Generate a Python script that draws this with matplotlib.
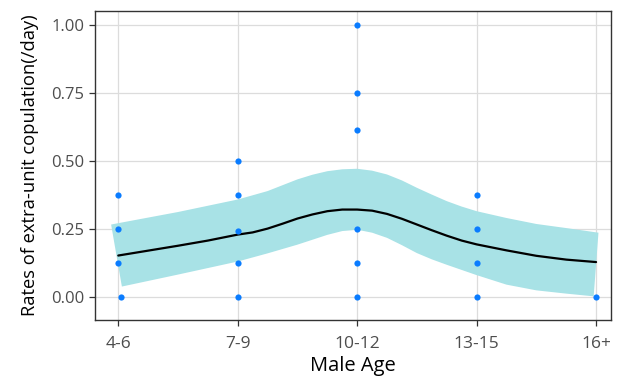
import matplotlib.pyplot as plt

plt.rcParams["font.family"] = ["Open Sans", "DejaVu Sans"]

# categorie de varsta (axa x)
age_labels = ["4-6", "7-9", "10-12", "13-15", "16+"]

# observatii (categorie, rata)
obs_cat = [0, 0, 0, 0.02,
           1, 1, 1, 1, 1,
           2, 2, 2, 2, 2, 2,
           3, 3, 3, 3,
           4]
obs_rate = [0.375, 0.25, 0.125, 0.0,
            0.5, 0.375, 0.244, 0.125, 0.0,
            1.0, 0.75, 0.615, 0.25, 0.125, 0.0,
            0.375, 0.25, 0.125, 0.0,
            0.0]

# curba estimata
fit_x = [0, 0.25, 0.5, 0.75, 1, 1.125, 1.25, 1.375, 1.5, 1.625, 1.75, 1.875,
         2, 2.125, 2.25, 2.375, 2.5, 2.625, 2.75, 2.875, 3, 3.25, 3.5, 3.75, 4]
fit_y = [0.152, 0.17, 0.188, 0.207, 0.229, 0.237, 0.251, 0.269, 0.288, 0.303,
         0.315, 0.321, 0.321, 0.317, 0.305, 0.287, 0.266, 0.245, 0.225, 0.207,
         0.193, 0.171, 0.151, 0.137, 0.128]

# banda de incredere
up_x = [-0.06, 0, 0.5, 1, 1.25, 1.5, 1.625, 1.75, 1.875, 2, 2.125, 2.25,
        2.375, 2.5, 2.625, 2.75, 2.875, 3, 3.25, 3.5, 3.75, 4.02]
up_y = [0.266, 0.271, 0.312, 0.358, 0.389, 0.432, 0.449, 0.462, 0.469, 0.471,
        0.464, 0.450, 0.428, 0.401, 0.376, 0.352, 0.332, 0.315, 0.29, 0.268,
        0.253, 0.236]
lo_x = [0.03, 0.5, 1, 1.25, 1.5, 1.75, 1.875, 2, 2.125, 2.25, 2.375, 2.5,
        2.625, 2.75, 3, 3.25, 3.5, 3.75, 3.98]
lo_y = [0.038, 0.082, 0.13, 0.16, 0.192, 0.228, 0.242, 0.247, 0.236, 0.217,
        0.19, 0.161, 0.138, 0.118, 0.08, 0.045, 0.024, 0.012, 0.002]

fig = plt.figure(figsize=(6.21, 3.82), dpi=100)
ax = fig.add_axes([95 / 621, 1 - 320 / 382, (611 - 95) / 621, (320 - 11) / 382])

ax.fill(up_x + lo_x[::-1], up_y + lo_y[::-1], color="#A8E2E6", lw=0, zorder=2)
ax.plot(fit_x, fit_y, color="black", lw=1.6, zorder=3,
        solid_joinstyle="round", solid_capstyle="round")
ax.scatter(obs_cat, obs_rate, s=20, color="#0A7CFF", lw=0, zorder=4)

ax.set_xlim(-0.195, 4.125)
ax.set_ylim(-0.085, 1.051)
ax.set_xticks(range(len(age_labels)))
ax.set_xticklabels(age_labels)
ax.set_yticks([0, 0.25, 0.5, 0.75, 1.0])
ax.set_yticklabels(["0.00", "0.25", "0.50", "0.75", "1.00"])

ax.grid(True, color="#DCDCDC", lw=0.9, zorder=0)
ax.set_axisbelow(True)
for sp in ax.spines.values():
    sp.set_color("#333333")
    sp.set_linewidth(1.0)
ax.tick_params(colors="#333333", labelcolor="#4D4D4D", length=4.5, width=0.9)
ax.tick_params(axis="y", labelsize=12, pad=3)
ax.tick_params(axis="x", labelsize=12.5, pad=7)

ax.set_xlabel("Male Age", fontsize=14.5, labelpad=3)
ax.set_ylabel("Rates of extra-unit copulation(/day)", fontsize=13.2, labelpad=9)

plt.savefig("out.png", dpi=100)
